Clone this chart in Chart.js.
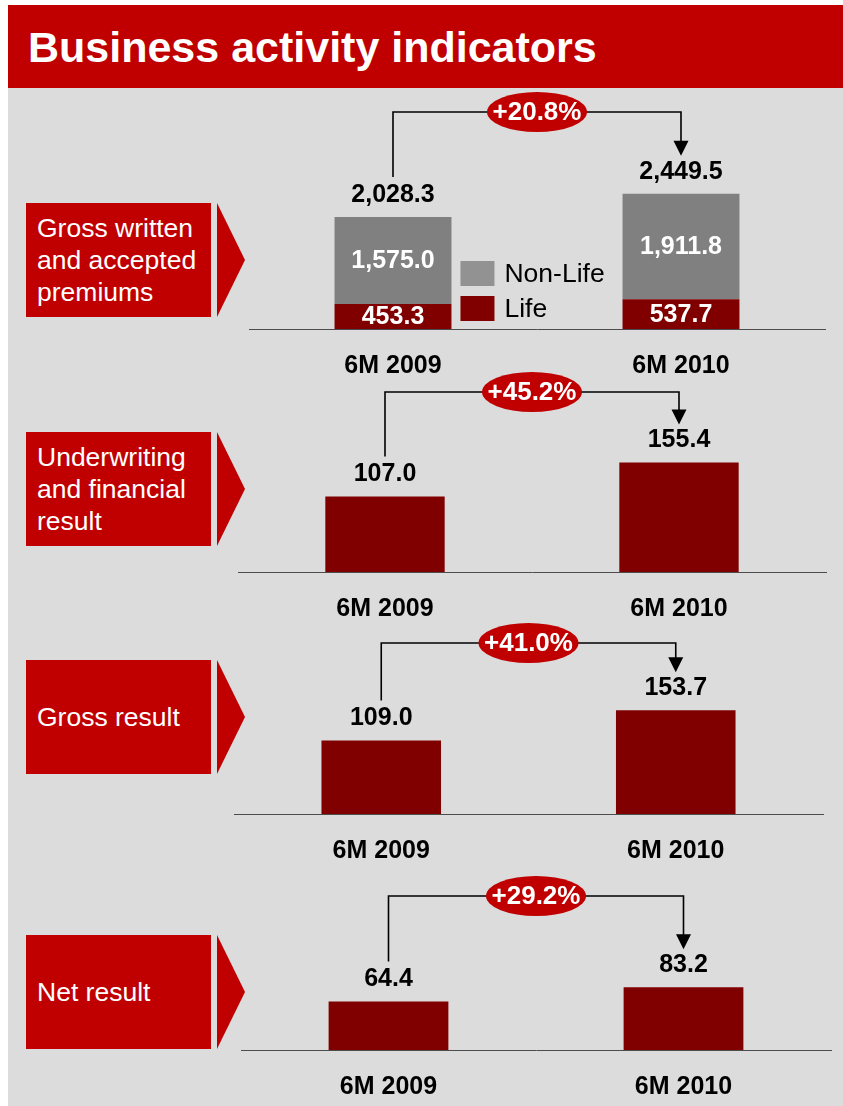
<!DOCTYPE html>
<html>
<head>
<meta charset="utf-8">
<script src="https://cdn.jsdelivr.net/npm/chart.js@4.4.1/dist/chart.umd.min.js"></script>
<style>
  html, body { margin: 0; padding: 0; background: #fff; }
  body { width: 843px; height: 1106px; position: relative; overflow: hidden; font-family: "Liberation Sans", Arial, sans-serif; }
  #bg { position: absolute; left: 8px; top: 88px; width: 835px; height: 1018px; background: #dcdcdc; }
  #title { position: absolute; left: 8px; top: 5px; width: 835px; height: 83px; background: #c00000; color: #fff;
           font-weight: bold; font-size: 43px; line-height: 85px; padding-left: 20px; box-sizing: border-box; }
  .tag { position: absolute; left: 26px; width: 185px; height: 114px; background: #c00000; color: #fff;
         font-size: 26.5px; line-height: 32px; display: flex; align-items: center; padding-left: 11px; box-sizing: border-box; }
  .tip { position: absolute; left: 217px; width: 28px; height: 114px; background: #c00000; clip-path: polygon(0 0, 100% 50%, 0 100%); }
  canvas { position: absolute; left: 0; }
</style>
</head>
<body>
<div id="bg"></div>
<div id="title">Business activity indicators</div>

<script>
const FONT = '"Liberation Sans", Arial, sans-serif';

// data (EUR m)
const categories = ["6M 2009", "6M 2010"];
const premiumsLife = [453.3, 537.7];
const premiumsNonLife = [1575.0, 1911.8];
const underwritingResult = [107.0, 155.4];
const grossResult = [109.0, 153.7];
const netResult = [64.4, 83.2];
const panelTitles = [
  "Gross written<br>and accepted<br>premiums",
  "Underwriting<br>and financial<br>result",
  "Gross result",
  "Net result",
];

// layout of each panel on the page
const panels = [
  { tagTop: 203, top: 90, height: 301, axisHeight: 62, left: 249, right: 825, max: 4330, legend: true,
    series: [
      { label: "Life", data: premiumsLife, color: "#800000", key: "#800000" },
      { label: "Non-Life", data: premiumsNonLife, color: "#808080", key: "#929292" },
    ] },
  { tagTop: 432, top: 370, height: 264, axisHeight: 62, left: 238, right: 826, max: 286.5,
    series: [{ label: "Result", data: underwritingResult, color: "#800000" }] },
  { tagTop: 660, top: 621, height: 255, axisHeight: 62, left: 234, right: 823, max: 286,
    series: [{ label: "Result", data: grossResult, color: "#800000" }] },
  { tagTop: 935, top: 874, height: 232, axisHeight: 56, left: 241, right: 831, max: 233.7,
    series: [{ label: "Result", data: netResult, color: "#800000" }] },
];

const fmt = v => v.toLocaleString("en-US", { minimumFractionDigits: 1, maximumFractionDigits: 1 });

const annotate = {
  id: "annotate",
  afterDatasetsDraw(chart, args, opts) {
    const { ctx, chartArea } = chart;
    const sets = chart.data.datasets;
    const metas = sets.map((d, i) => chart.getDatasetMeta(i));
    const topBars = metas[metas.length - 1].data;
    const totals = chart.data.labels.map((_, i) => sets.reduce((s, d) => s + d.data[i], 0));

    ctx.save();
    ctx.textAlign = "center";
    ctx.textBaseline = "middle";
    ctx.font = `bold 25px ${FONT}`;

    // segment values inside stacked bars
    if (sets.length > 1) {
      ctx.fillStyle = "#fff";
      metas.forEach((m, di) => m.data.forEach((bar, i) => {
        ctx.fillText(fmt(sets[di].data[i]), bar.x, (bar.y + bar.base) / 2 + 1);
      }));
    }

    // totals above bars
    ctx.fillStyle = "#000";
    const labelY = topBars.map(b => b.y - 22);
    topBars.forEach((b, i) => ctx.fillText(fmt(totals[i]), b.x, labelY[i]));

    // growth bracket with arrow
    const x0 = topBars[0].x, x1 = topBars[1].x;
    const yb = chartArea.top + 22;
    ctx.strokeStyle = "#000";
    ctx.lineWidth = 1.6;
    ctx.beginPath();
    ctx.moveTo(x0, labelY[0] - 18);
    ctx.lineTo(x0, yb);
    ctx.lineTo(x1, yb);
    ctx.lineTo(x1, labelY[1] - 30);
    ctx.stroke();
    ctx.beginPath();
    ctx.moveTo(x1 - 7.5, labelY[1] - 31);
    ctx.lineTo(x1 + 7.5, labelY[1] - 31);
    ctx.lineTo(x1, labelY[1] - 16);
    ctx.closePath();
    ctx.fill();

    const xm = (x0 + x1) / 2;
    ctx.fillStyle = "#c00000";
    ctx.beginPath();
    ctx.ellipse(xm, yb, 50, 20, 0, 0, Math.PI * 2);
    ctx.fill();
    ctx.fillStyle = "#fff";
    ctx.font = `bold 26px ${FONT}`;
    const growth = (totals[1] / totals[0] - 1) * 100;
    ctx.fillText("+" + growth.toFixed(1) + "%", xm, yb + 1);

    // legend between the bars
    if (opts.legend) {
      const b0 = topBars[0];
      const lx = b0.x + b0.width / 2 + 9;
      ctx.textAlign = "left";
      ctx.font = `26.5px ${FONT}`;
      [...sets].reverse().forEach((d, k) => {
        const y = chartArea.bottom - 68 + k * 35;
        ctx.fillStyle = d.keyColor;
        ctx.fillRect(lx, y, 34, 25);
        ctx.fillStyle = "#000";
        ctx.fillText(d.label, lx + 44, y + 14);
      });
    }
    ctx.restore();
  }
};

panels.forEach((p, n) => {
  const tag = document.createElement("div");
  tag.className = "tag";
  tag.style.top = p.tagTop + "px";
  tag.innerHTML = "<span>" + panelTitles[n] + "</span>";
  document.body.appendChild(tag);
  const tip = document.createElement("div");
  tip.className = "tip";
  tip.style.top = p.tagTop + "px";
  document.body.appendChild(tip);

  const cv = document.createElement("canvas");
  cv.width = 843;
  cv.height = p.height;
  cv.style.top = p.top + "px";
  document.body.appendChild(cv);

  new Chart(cv, {
    type: "bar",
    data: {
      labels: categories,
      datasets: p.series.map(s => ({
        label: s.label,
        data: s.data,
        backgroundColor: s.color,
        keyColor: s.key,
        borderWidth: 0,
        barPercentage: 0.406,
        categoryPercentage: 1,
      })),
    },
    options: {
      responsive: false,
      animation: false,
      devicePixelRatio: 1,
      layout: { padding: { left: p.left, right: 843 - p.right, top: 0, bottom: 0 } },
      plugins: {
        legend: { display: false },
        tooltip: { enabled: false },
        annotate: { legend: !!p.legend },
      },
      scales: {
        x: {
          stacked: true,
          grid: { display: false, drawTicks: false },
          border: { display: true, color: "#4d4d4d", width: 1 },
          ticks: { color: "#000", padding: 22, font: { family: FONT, size: 25, weight: "bold" } },
          afterFit: s => { s.height = p.axisHeight; },
        },
        y: { stacked: true, display: false, min: 0, max: p.max },
      },
    },
    plugins: [annotate],
  });
});
</script>
</body>
</html>
